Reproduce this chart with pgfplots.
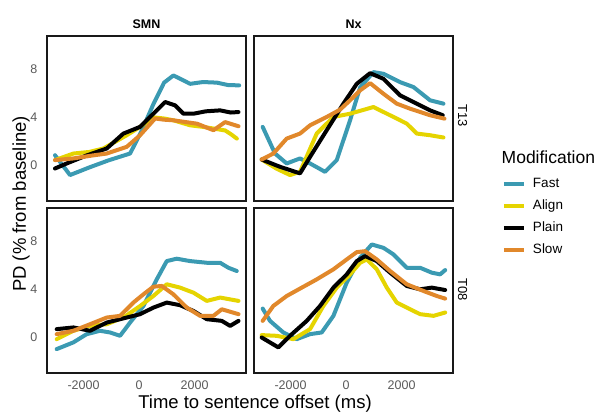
\documentclass[border=0pt]{standalone}
\usepackage{pgfplots}
\pgfplotsset{compat=1.18}
\usepackage{fontspec}
\setmainfont{Liberation Sans}
\definecolor{fast}{HTML}{3B9AB2}
\definecolor{align}{HTML}{E5D400}
\definecolor{plain}{HTML}{000000}
\definecolor{slow}{HTML}{E1882B}
\definecolor{ticktxt}{HTML}{5A5A5A}

\pgfplotsset{
  panel/.style={
    scale only axis, width=199bp, height=165bp,
    xmin=-3315, xmax=3850, ymin=-3, ymax=10.8,
    axis line style={black!90, line width=1.3bp},
    xtick={-2000,0,2000}, xticklabels={-2000,0,2000},
    ytick={0,4,8}, yticklabels={0,4,8},
    major tick length=0pt,
    tick label style={font=\fontsize{12.5bp}{14bp}\selectfont, text=ticktxt, inner sep=0pt},
    xticklabel style={yshift=-8bp},
    yticklabel style={xshift=-9.5bp},
    title style={at={(0.5,1)}, anchor=base, yshift=1.5bp, inner sep=0pt,
      font=\fontsize{12.5bp}{14bp}\selectfont\bfseries},
    every axis plot/.append style={line width=4bp, line join=round, line cap=round},
  },
  nox/.style={xticklabels={}},
  noy/.style={yticklabels={}},
}

\begin{document}
\begin{tikzpicture}
\path[use as bounding box] (0,0) rectangle (598bp,-415bp);

% SMN / T13
\begin{axis}[panel, nox, at={(47bp,-36bp)}, anchor=north west, title={SMN}]
\addplot[fast] coordinates {(-3027,0.83) (-2486,-0.83) (-1800,-0.2) (-1100,0.4) (-324,0.97) (100,2.9) (515,5.1) (900,6.9) (1236,7.5) (1500,7.2) (1838,6.8) (2300,6.95) (2800,6.9) (3200,6.7) (3604,6.67)};
\addplot[align] coordinates {(-3027,0.42) (-2366,0.97) (-1800,1.1) (-1285,1.39) (-444,2.5) (36,3.2) (515,4.0) (900,3.9) (1236,3.75) (1838,3.33) (2300,3.2) (2678,3.06) (3099,2.9) (3300,2.6) (3520,2.22)};
\addplot[plain] coordinates {(-3027,-0.28) (-2605,0.14) (-1900,0.8) (-1165,1.39) (-565,2.64) (36,3.2) (515,4.3) (937,5.28) (1297,5.0) (1597,4.3) (1957,4.3) (2400,4.5) (2919,4.58) (3300,4.4) (3580,4.44)};
\addplot[slow] coordinates {(-3027,0.42) (-2366,0.56) (-1700,0.8) (-1165,0.97) (-444,1.53) (36,2.5) (577,3.9) (900,3.8) (1236,3.75) (2080,3.47) (2678,2.92) (3099,3.6) (3580,3.25)};
\end{axis}

% Nx / T13
\begin{axis}[panel, nox, noy, at={(254bp,-36bp)}, anchor=north west, title={Nx},
  legend entries={Fast,Align,Plain,Slow},
  legend cell align=left,
  legend image code/.code={\draw[#1, line width=4bp, line cap=butt] (0bp,0bp) -- (20bp,0bp);},
  legend style={at={(1.2462,0.1424)}, anchor=north west, draw=none, fill=none,
    inner sep=0pt, outer sep=0pt, column sep=7bp, row sep=9bp,
    font=\fontsize{13.5bp}{15bp}\selectfont,
    nodes={inner sep=0pt, text height=10bp, text depth=3bp}},
]
\addplot[fast] coordinates {(-3003,3.2) (-2559,0.97) (-2138,0.14) (-1658,0.56) (-1297,0.14) (-757,-0.56) (-336,0.42) (144,3.75) (505,6.5) (985,7.78) (1345,7.64) (1946,6.94) (2426,6.53) (3027,5.42) (3507,5.14)};
\addplot[align] coordinates {(-3039,0.47) (-2500,-0.3) (-2018,-0.83) (-1658,-0.56) (-1057,2.64) (-456,4.03) (144,4.3) (985,4.86) (1706,4.03) (2186,3.47) (2547,2.64) (3027,2.5) (3507,2.31)};
\addplot[plain] coordinates {(-3039,0.47) (-2378,-0.14) (-1658,-0.69) (-1297,0.69) (-697,2.92) (-96,5.14) (385,6.8) (865,7.69) (1345,7.22) (1946,5.83) (2426,5.28) (3027,4.58) (3484,4.17)};
\addplot[slow] coordinates {(-3039,0.47) (-2619,0.97) (-2138,2.22) (-1658,2.64) (-1297,3.33) (-697,4.03) (-216,4.64) (144,5.42) (505,6.25) (865,6.86) (1345,5.97) (1826,5.14) (2306,4.72) (3027,4.17) (3543,3.89)};
\end{axis}
\node[rotate=-90, anchor=center, inner sep=0pt, font=\fontsize{13bp}{15bp}\selectfont] at (462.6bp,-116bp) {T13};

% SMN / T08
\begin{axis}[panel, at={(47bp,-208bp)}, anchor=north west]
\addplot[fast] coordinates {(-2966,-1.0) (-2366,-0.44) (-1886,0.25) (-1405,0.53) (-1045,0.39) (-685,0.11) (-324,1.22) (156,2.6) (636,4.83) (997,6.36) (1357,6.56) (1838,6.36) (2438,6.22) (2919,6.22) (3219,5.8) (3520,5.53)};
\addplot[align] coordinates {(-2966,-0.17) (-2366,0.53) (-1766,0.94) (-1165,1.08) (-565,1.64) (36,2.6) (515,3.44) (997,4.42) (1477,4.14) (1957,3.72) (2438,3.03) (2919,3.31) (3580,3.03)};
\addplot[plain] coordinates {(-2966,0.67) (-2366,0.81) (-1766,0.53) (-1165,1.22) (-444,1.64) (36,1.92) (515,2.47) (997,2.89) (1477,2.67) (1957,2.19) (2438,1.5) (2979,1.36) (3279,0.94) (3580,1.36)};
\addplot[slow] coordinates {(-2966,0.25) (-2366,0.53) (-1766,1.08) (-1165,1.64) (-685,1.78) (-205,2.89) (156,3.58) (515,4.22) (817,4.28) (1236,3.58) (1718,2.47) (2198,1.78) (2678,1.78) (2979,2.33) (3580,1.92)};
\end{axis}

% Nx / T08
\begin{axis}[panel, noy, at={(254bp,-208bp)}, anchor=north west]
\addplot[fast] coordinates {(-3003,2.39) (-2739,1.36) (-2259,0.39) (-1778,-0.17) (-1297,0.25) (-877,0.39) (-456,1.78) (24,4.56) (505,6.64) (925,7.75) (1345,7.47) (1706,6.92) (2186,5.8) (2667,5.8) (3087,5.39) (3387,5.25) (3568,5.61)};
\addplot[align] coordinates {(-3039,0.17) (-2498,0.11) (-1898,-0.17) (-1297,0.67) (-817,2.61) (-336,4.14) (144,5.25) (505,6.22) (745,6.5) (1106,5.67) (1466,4.14) (1826,2.89) (2306,2.33) (2667,1.92) (3147,1.78) (3568,2.06)};
\addplot[plain] coordinates {(-3039,-0.03) (-2438,-0.86) (-2018,0.11) (-1417,1.36) (-937,2.61) (-456,4.14) (24,5.25) (385,6.36) (685,6.78) (1106,6.36) (1586,5.39) (2186,4.28) (2667,4.0) (3087,4.14) (3568,3.94)};
\addplot[slow] coordinates {(-3003,1.36) (-2619,2.61) (-2138,3.44) (-1658,4.06) (-1057,4.83) (-456,5.67) (24,6.5) (385,7.11) (685,7.19) (1106,6.5) (1586,5.53) (2186,4.42) (2787,3.86) (3267,3.44) (3568,3.22)};
\end{axis}
\node[rotate=-90, anchor=center, inner sep=0pt, font=\fontsize{13bp}{15bp}\selectfont] at (462.6bp,-290bp) {T08};

% axis titles and legend title
\node[anchor=base, inner sep=0pt, font=\fontsize{18.5bp}{20bp}\selectfont] at (255bp,-408.3bp) {Time to sentence offset (ms)};
\node[rotate=90, anchor=center, inner sep=0pt, font=\fontsize{18.5bp}{20bp}\selectfont] at (21bp,-204bp) {PD (\% from baseline)};
\node[anchor=west, inner sep=0pt, font=\fontsize{17.5bp}{19bp}\selectfont] at (501.5bp,-157.5bp) {Modification};
\end{tikzpicture}
\end{document}
